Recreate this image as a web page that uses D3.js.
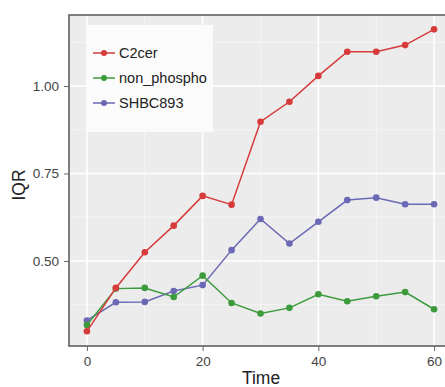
<!DOCTYPE html>
<html><head><meta charset="utf-8">
<script src="https://cdn.jsdelivr.net/npm/d3@7"></script>
<style>body{margin:0;background:#fff}svg{display:block}</style>
</head><body>
<svg id="c" width="445" height="387"></svg>
<script>
const times = [0,5,10,15,20,25,30,35,40,45,50,55,60];
const c2cer = [0.299,0.423,0.525,0.601,0.686,0.661,0.898,0.955,1.029,1.098,1.098,1.117,1.162];
const nonPhospho = [0.317,0.421,0.423,0.397,0.458,0.380,0.350,0.366,0.405,0.385,0.399,0.411,0.362];
const shbc893 = [0.330,0.382,0.383,0.414,0.431,0.531,0.620,0.550,0.612,0.674,0.681,0.662,0.662];
const seriesNames = ["C2cer","non_phospho","SHBC893"];
const seriesColors = ["#d63a3a","#3c9c3c","#6b69b5"];
const xTicks = [0,20,40,60];
const yTicks = [0.50,0.75,1.00];

const FONT = "Liberation Sans, Arial, sans-serif";
const svg = d3.select("#c");
const L=69, T=15, B=346, R=452;
const x = d3.scaleLinear().domain([-3.1,63.1]).range([L,R]);
const y = d3.scaleLinear().domain([0.257,1.203]).range([B,T]);

svg.append("rect").attr("x",L).attr("y",T).attr("width",R-L).attr("height",B-T).attr("fill","#edecec");
const g = svg.append("g");
[10,30,50].forEach(v=>g.append("line").attr("x1",x(v)).attr("x2",x(v)).attr("y1",T).attr("y2",B).attr("stroke","#f7f7f7").attr("stroke-width",0.8));
[0.375,0.625,0.875,1.125].forEach(v=>g.append("line").attr("y1",y(v)).attr("y2",y(v)).attr("x1",L).attr("x2",R).attr("stroke","#f7f7f7").attr("stroke-width",0.8));
xTicks.forEach(v=>g.append("line").attr("x1",x(v)).attr("x2",x(v)).attr("y1",T).attr("y2",B).attr("stroke","#fff").attr("stroke-width",1.6));
yTicks.forEach(v=>g.append("line").attr("y1",y(v)).attr("y2",y(v)).attr("x1",L).attr("x2",R).attr("stroke","#fff").attr("stroke-width",1.6));

const data = [c2cer,nonPhospho,shbc893];
const line = d3.line().x((d,i)=>x(times[i])).y(d=>y(d));
[2,1,0].forEach(k=>{
  svg.append("path").attr("d",line(data[k])).attr("fill","none").attr("stroke",seriesColors[k]).attr("stroke-width",1.5);
  svg.selectAll(null).data(data[k]).enter().append("circle")
    .attr("cx",(d,i)=>x(times[i])).attr("cy",d=>y(d)).attr("r",3.3).attr("fill",seriesColors[k]);
});

svg.append("rect").attr("x",L).attr("y",T).attr("width",R-L).attr("height",B-T).attr("fill","none").attr("stroke","#555").attr("stroke-width",1.5);

const xa = svg.append("g").attr("transform",`translate(0,${B})`).call(d3.axisBottom(x).tickValues(xTicks).tickFormat(d3.format("d")).tickSize(5).tickPadding(5));
const ya = svg.append("g").attr("transform",`translate(${L},0)`).call(d3.axisLeft(y).tickValues(yTicks).tickFormat(d3.format(".2f")).tickSize(5).tickPadding(5));
[xa,ya].forEach(a=>{
  a.select(".domain").remove();
  a.selectAll("line").attr("stroke","#666");
  a.selectAll("text").attr("fill","#444").attr("font-family",FONT).attr("font-size",13.5);
});

svg.append("text").attr("x",261).attr("y",384).attr("text-anchor","middle").attr("font-family",FONT).attr("font-size",17.5).attr("fill","#222").text("Time");
svg.append("text").attr("transform","translate(25,185) rotate(-90)").attr("text-anchor","middle").attr("font-family",FONT).attr("font-size",17.5).attr("fill","#222").text("IQR");

const lg = svg.append("g");
lg.append("rect").attr("x",88).attr("y",25).attr("width",125).attr("height",107).attr("fill","#fbfbfb");
seriesNames.forEach((n,i)=>{
  const yy = 53 + i*25;
  lg.append("line").attr("x1",93).attr("x2",115).attr("y1",yy).attr("y2",yy).attr("stroke",seriesColors[i]).attr("stroke-width",1.5);
  lg.append("circle").attr("cx",104).attr("cy",yy).attr("r",3).attr("fill",seriesColors[i]);
  lg.append("text").attr("x",119).attr("y",yy+5).attr("font-family",FONT).attr("font-size",14.5).attr("fill","#222").text(n);
});
</script>
</body></html>
